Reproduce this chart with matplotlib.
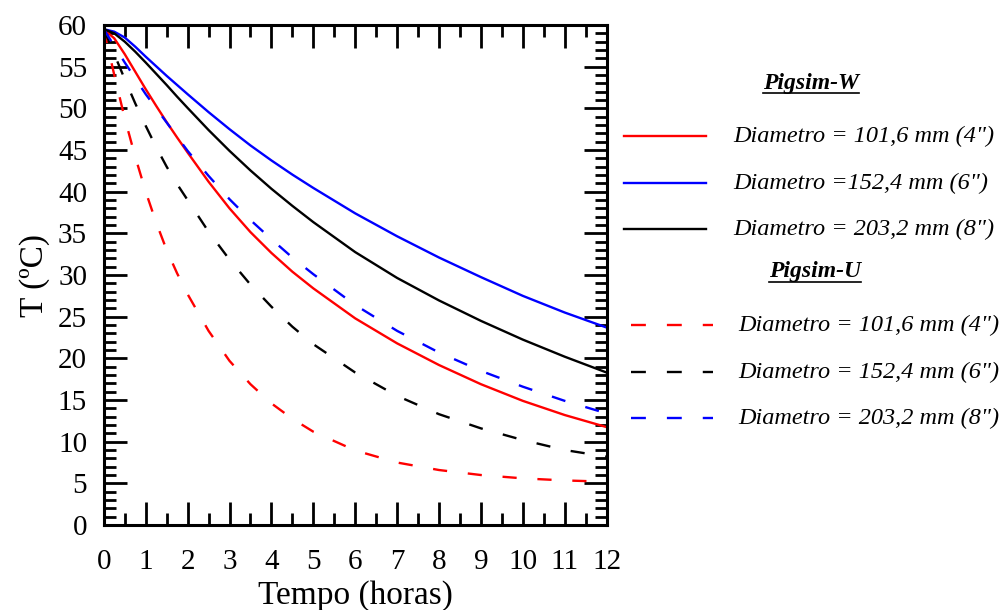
import matplotlib
matplotlib.use("Agg")
import matplotlib.pyplot as plt
from matplotlib.lines import Line2D
from matplotlib.ticker import MultipleLocator

# time grid (hours)
tempo = [0, 0.25, 0.5, 0.75, 1, 1.25, 1.5, 1.75, 2, 2.5, 3, 3.5, 4, 4.5, 5,
         6, 7, 8, 9, 10, 11, 12]

# Pigsim-W (solid)
w_4in = [59.5, 58.4, 56.5, 54.4, 52.3, 50.3, 48.35, 46.5, 44.7, 41.2, 38.0, 35.15,
         32.65, 30.4, 28.4, 24.8, 21.8, 19.2, 16.9, 14.9, 13.2, 11.75]
w_6in = [59.5, 59.2, 58.5, 57.4, 56.2, 55.05, 53.9, 52.8, 51.7, 49.55, 47.5, 45.55,
         43.75, 42.05, 40.45, 37.4, 34.65, 32.1, 29.75, 27.5, 25.5, 23.7]
w_8in = [59.5, 59.0, 58.0, 56.8, 55.5, 54.15, 52.8, 51.4, 50.05, 47.4, 44.9, 42.55,
         40.35, 38.3, 36.35, 32.75, 29.65, 26.95, 24.5, 22.25, 20.2, 18.3]

# Pigsim-U (dashed)
u_4in = [59.5, 54.0, 48.8, 44.2, 40.0, 36.3, 33.0, 30.2, 27.7, 23.3, 19.7, 16.9,
         14.6, 12.75, 11.2, 8.95, 7.5, 6.6, 6.0, 5.6, 5.35, 5.2]
u_6in = [59.5, 56.5, 53.5, 50.6, 47.9, 45.35, 43.0, 40.9, 39.0, 35.2, 31.85, 28.85,
         26.2, 23.8, 21.7, 18.3, 15.5, 13.3, 11.6, 10.2, 9.0, 8.2]
u_8in = [59.5, 57.5, 55.5, 53.6, 51.7, 50.0, 48.3, 46.6, 44.9, 41.9, 39.1, 36.6,
         34.3, 32.1, 30.1, 26.4, 23.3, 20.7, 18.5, 16.6, 14.9, 13.4]

w_labels = ['Diametro = 101,6 mm (4")', 'Diametro =152,4 mm (6")',
            'Diametro = 203,2 mm (8")']
u_labels = ['Diametro = 101,6 mm (4")', 'Diametro = 152,4 mm (6")',
            'Diametro = 203,2 mm (8")']

SERIF = ["Liberation Serif", "DejaVu Serif"]
plt.rcParams["font.family"] = SERIF

LW = 1.7
DASH = (0, (6.0, 8.8))

fig = plt.figure(figsize=(10, 6.1), dpi=100)
ax = fig.add_axes([0.1038, 0.1393, 0.5028, 0.8197])

ax.plot(tempo, w_4in, color="#ff0000", lw=LW)
ax.plot(tempo, w_6in, color="#0000ff", lw=LW)
ax.plot(tempo, w_8in, color="black", lw=LW)
ax.plot(tempo, u_4in, color="#ff0000", lw=LW, ls=DASH)
ax.plot(tempo, u_6in, color="black", lw=LW, ls=DASH)
ax.plot(tempo, u_8in, color="#0000ff", lw=LW, ls=DASH)

ax.set_xlim(0, 12)
ax.set_ylim(0, 60)
ax.xaxis.set_major_locator(MultipleLocator(1))
ax.xaxis.set_minor_locator(MultipleLocator(0.5))
ax.yaxis.set_major_locator(MultipleLocator(5))
ax.yaxis.set_minor_locator(MultipleLocator(1))

for s in ax.spines.values():
    s.set_linewidth(2.2)
ax.tick_params(which="both", direction="in", top=True, right=True, width=2.0)
ax.tick_params(which="major", length=16.5)
ax.tick_params(which="minor", length=8.5)
ax.tick_params(axis="x", which="major", labelsize=21, pad=17)
ax.tick_params(axis="y", which="major", labelsize=21, pad=12)

ax.set_xlabel("Tempo (horas)", fontsize=24, labelpad=4)
ax.set_ylabel("T (ºC)", fontsize=24, labelpad=6)

# legend, drawn in pixel coordinates of the figure
W, H = fig.get_size_inches() * fig.dpi


def fx(px):
    return px / W


def fy(py):
    return 1 - py / H


def header(text, xc, yc):
    t = fig.text(fx(xc), fy(yc), text, ha="center", va="center",
                 fontsize=17, fontweight="bold", fontstyle="italic")
    fig.canvas.draw()
    bb = t.get_window_extent()
    y0 = (bb.y0 + 1) / H
    fig.add_artist(Line2D([bb.x0 / W, bb.x1 / W], [y0, y0], color="black",
                          lw=1.2, transform=fig.transFigure))


header("Pigsim-W", 811, 83)
for label, color, ypx in zip(w_labels, ["#ff0000", "#0000ff", "black"],
                             [136, 183, 229]):
    fig.add_artist(Line2D([fx(624), fx(706)], [fy(ypx), fy(ypx)], color=color,
                          lw=LW, transform=fig.transFigure))
    fig.text(fx(733), fy(ypx), label, ha="left", va="center", fontsize=17.5,
             fontstyle="italic")

header("Pigsim-U", 815, 272)
for label, color, ypx in zip(u_labels, ["#ff0000", "black", "#0000ff"],
                             [325, 372, 418]):
    fig.add_artist(Line2D([fx(631), fx(713)], [fy(ypx), fy(ypx)], color=color,
                          lw=LW, ls=(0, (6.3, 8.9)), transform=fig.transFigure))
    fig.text(fx(738), fy(ypx), label, ha="left", va="center", fontsize=17.5,
             fontstyle="italic")

fig.savefig("out.png", dpi=100)
